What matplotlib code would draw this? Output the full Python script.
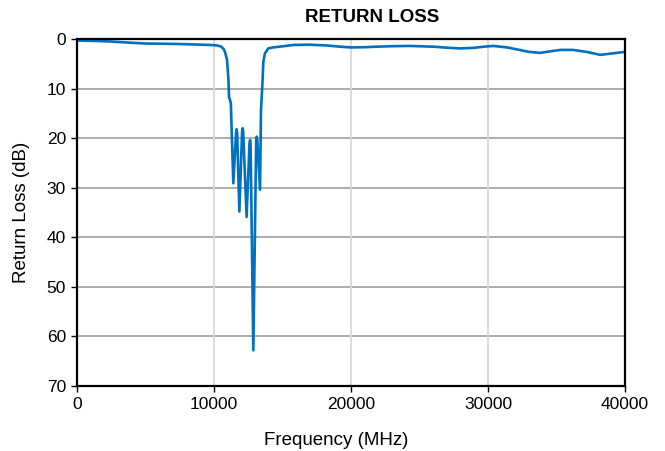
import matplotlib
matplotlib.use("Agg")
import matplotlib.pyplot as plt

plt.rcParams['font.family'] = ['Liberation Sans', 'DejaVu Sans']

title = "RETURN LOSS"
x_label = "Frequency (MHz)"
y_label = "Return Loss (dB)"

freq_mhz = [0, 600, 1500, 2400, 3600, 4900, 6000, 7300, 8500, 9700, 10200,
            10500, 10700, 10800, 10950, 11050,
            11100, 11160, 11230, 11410, 11610, 11650, 11690, 11850, 12050,
            12090, 12130, 12380, 12590, 12630, 12670,
            12870, 13080, 13120, 13160, 13360, 13430, 13530, 13600, 13720,
            13960, 14300, 14800, 15800, 17000, 18200, 19200, 20050, 21000,
            21900, 23000, 24300, 26000, 27000, 27950, 28900, 29700, 30400,
            31400, 32300, 33000, 33800, 34500, 35300, 36200, 37200, 38200,
            39100, 40000]
return_loss_db = [0.3, 0.35, 0.4, 0.5, 0.7, 0.9, 0.95, 1.0, 1.1, 1.2, 1.3,
                  1.5, 2.0, 2.6, 4.2, 8.0,
                  11.8, 12.2, 13.0, 29.1, 18.9, 18.2, 18.9, 34.8, 18.7,
                  18.0, 18.7, 35.9, 21.1, 20.4, 21.1,
                  62.8, 20.4, 19.7, 20.4, 30.4, 14.3, 9.3, 4.6, 2.9,
                  1.9, 1.7, 1.55, 1.2, 1.15, 1.3, 1.55, 1.7, 1.65,
                  1.55, 1.45, 1.4, 1.55, 1.75, 1.9, 1.8, 1.55, 1.4,
                  1.7, 2.2, 2.6, 2.8, 2.5, 2.2, 2.2, 2.6, 3.2,
                  2.9, 2.6]

x_ticks = [0, 10000, 20000, 30000, 40000]
y_ticks = [0, 10, 20, 30, 40, 50, 60, 70]

W, H = 665, 451
fig = plt.figure(figsize=(W / 100, H / 100), dpi=100)
ax = fig.add_axes([77 / W, 1 - 386 / H, (625 - 77) / W, (386 - 39) / H])

for yv in y_ticks[1:-1]:
    ax.axhline(yv, color='#A6A6A6', lw=1.3, zorder=1)
for xv in x_ticks[1:-1]:
    ax.axvline(xv, color='#D9D9D9', lw=1.3, zorder=1)

ax.plot(freq_mhz, return_loss_db, color='#0070C0', lw=1.9, zorder=3,
        solid_joinstyle='round')

ax.set_xlim(0, 40000)
ax.set_ylim(70, 0)
ax.set_xticks(x_ticks)
ax.set_yticks(y_ticks)
ax.tick_params(direction='out', length=4, width=1, labelsize=12.5, pad=4,
               colors='black')
for s in ax.spines.values():
    s.set_linewidth(1.6)
    s.set_color('black')
    s.set_zorder(4)

fig.text(372 / W, 1 - 17 / H, title, ha='center', va='center',
         fontsize=13.5, fontweight='bold')
fig.text(336 / W, 1 - 449 / H, x_label, ha='center', va='bottom',
         fontsize=13.5)
fig.text(22 / W, 1 - 212 / H, y_label, ha='center', va='center',
         rotation=90, fontsize=13.5)

fig.savefig("out.png", dpi=100)
